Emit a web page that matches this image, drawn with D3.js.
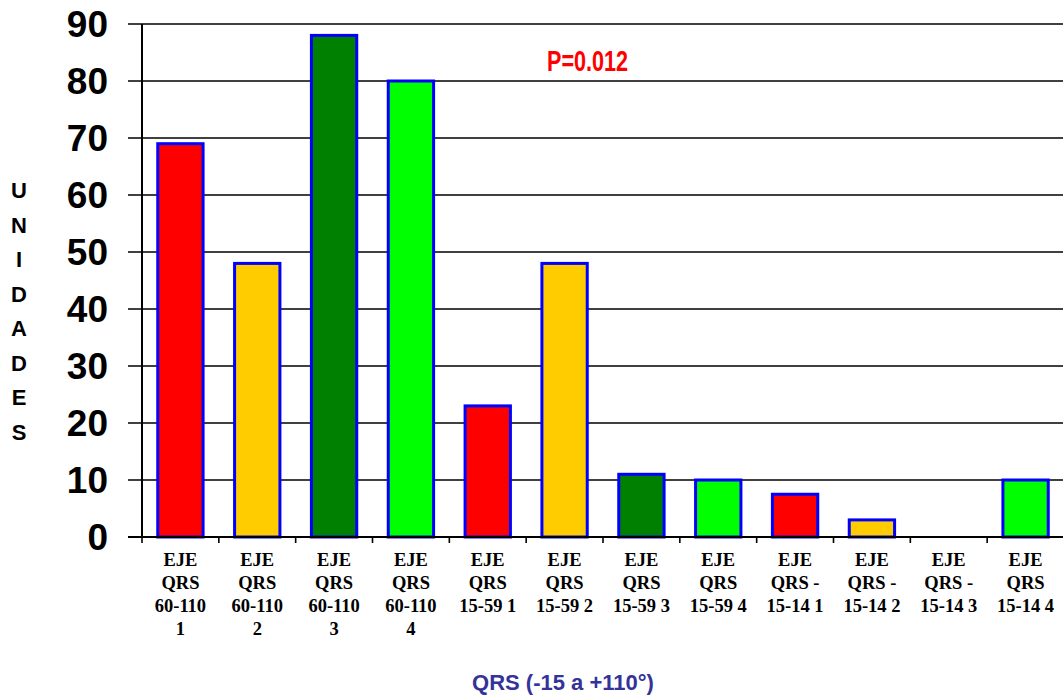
<!DOCTYPE html>
<html><head><meta charset="utf-8">
<script src="https://cdn.jsdelivr.net/npm/d3@7"></script>
<style>body{margin:0;background:#fff}svg{display:block}</style>
</head><body><svg id="c" width="1063" height="696"></svg>
<script>
const categories = [
  ["EJE","QRS","60-110","1"],["EJE","QRS","60-110","2"],["EJE","QRS","60-110","3"],["EJE","QRS","60-110","4"],
  ["EJE","QRS","15-59 1"],["EJE","QRS","15-59 2"],["EJE","QRS","15-59 3"],["EJE","QRS","15-59 4"],
  ["EJE","QRS -","15-14 1"],["EJE","QRS -","15-14 2"],["EJE","QRS -","15-14 3"],["EJE","QRS","15-14 4"]
];
const values = [69, 48, 88, 80, 23, 48, 11, 10, 7.5, 3, 0, 10];
const colors = ["#FF0000","#FFCC00","#008000","#00FF00","#FF0000","#FFCC00","#008000","#00FF00","#FF0000","#FFCC00","#008000","#00FF00"];
const yTicks = [0,10,20,30,40,50,60,70,80,90];
const yTitle = "UNIDADES";
const xTitle = "QRS (-15 a +110°)";
const annotation = "P=0.012";

(function () {
const svg = d3.select("#c");
const pL = 142, pR = 1064, pT = 24, pB = 537;
const x = d3.scaleBand().domain(d3.range(categories.length)).range([pL, pR]).paddingInner(0.41).paddingOuter(0.205);
const y = d3.scaleLinear().domain([0, 90]).range([pB, pT]);

svg.append("g").selectAll("line").data(yTicks).join("line")
  .attr("x1", pL - 14).attr("x2", pR).attr("y1", d => y(d)).attr("y2", d => y(d))
  .attr("stroke", "#000").attr("stroke-width", 1.6);

svg.append("g").selectAll("text").data(yTicks).join("text")
  .attr("x", 108).attr("y", d => y(d)).attr("dy", "0.36em").attr("text-anchor", "end")
  .attr("font-family", "Liberation Sans, Arial, sans-serif").attr("font-weight", "bold").attr("font-size", 37)
  .text(d => d);

svg.append("g").selectAll("rect").data(values).join("rect")
  .attr("x", (d, i) => x(i)).attr("width", x.bandwidth())
  .attr("y", d => y(d)).attr("height", d => pB - y(d))
  .attr("fill", (d, i) => colors[i])
  .attr("stroke", "#0000FF").attr("stroke-width", d => d > 0 ? 3 : 0);

svg.append("line").attr("x1", pL).attr("x2", pL).attr("y1", pT).attr("y2", pB).attr("stroke", "#000").attr("stroke-width", 2);
svg.append("line").attr("x1", pL - 14).attr("x2", pR).attr("y1", pB).attr("y2", pB).attr("stroke", "#000").attr("stroke-width", 2);
const bw = (pR - pL) / categories.length;
svg.append("g").selectAll("line").data(d3.range(categories.length + 1)).join("line")
  .attr("x1", i => pL + i * bw).attr("x2", i => pL + i * bw)
  .attr("y1", pB).attr("y2", pB + 6).attr("stroke", "#000").attr("stroke-width", 1.6);

const xl = svg.append("g").selectAll("text").data(categories).join("text")
  .attr("text-anchor", "middle")
  .attr("font-family", "Liberation Serif, 'Times New Roman', serif").attr("font-weight", "bold").attr("font-size", 18.5)
  .attr("transform", (d, i) => `translate(${x(i) + x.bandwidth() / 2},${566})`);
xl.selectAll("tspan").data(d => d).join("tspan")
  .attr("x", 0).attr("y", (d, j) => j * 23).text(d => d);

svg.append("g").selectAll("text").data(yTitle.split("")).join("text")
  .attr("x", 19).attr("y", (d, i) => 198 + i * 34.5).attr("text-anchor", "middle")
  .attr("font-family", "Liberation Sans, Arial, sans-serif").attr("font-weight", "bold").attr("font-size", 22)
  .text(d => d);

svg.append("text").attr("x", 563).attr("y", 690).attr("text-anchor", "middle")
  .attr("font-family", "Liberation Sans, Arial, sans-serif").attr("font-weight", "bold").attr("font-size", 22)
  .attr("fill", "#333399").text(xTitle);

svg.append("text").attr("x", 547).attr("y", 71)
  .attr("font-family", "Liberation Sans, Arial, sans-serif").attr("font-weight", "bold").attr("font-size", 29)
  .attr("fill", "#FF0000").attr("textLength", 81).attr("lengthAdjust", "spacingAndGlyphs").text(annotation);
})();
</script></body></html>
